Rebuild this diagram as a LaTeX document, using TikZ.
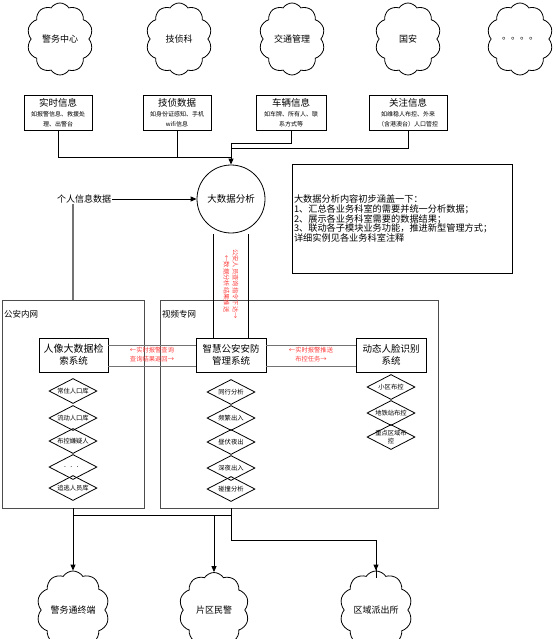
\documentclass[tikz,border=0pt]{standalone}
\usepackage{fontspec}
\setmainfont{Noto Sans CJK SC}
\usetikzlibrary{shapes.symbols,shapes.geometric,arrows.meta}
\tikzset{
  cloudn/.style={cloud, cloud puffs=10, cloud puff arc=115, aspect=0.9, draw, line width=0.8pt,
    minimum width=66pt, minimum height=72pt, inner sep=0pt, font=\fontsize{9}{10}\selectfont},
  infobox/.style={draw, line width=0.9pt, minimum height=35pt, align=center, inner sep=1pt,
    font=\fontsize{6}{10}\selectfont},
  sysbox/.style={draw, line width=0.9pt, minimum width=70pt, minimum height=34pt, align=center,
    inner sep=1pt, font=\fontsize{9.5}{12}\selectfont},
  dia/.style={diamond, draw, line width=0.8pt, minimum width=48pt, minimum height=25pt, inner sep=0pt,
    font=\fontsize{6.3}{7.5}\selectfont},
  netbox/.style={draw=black!70, line width=0.9pt},
  redtxt/.style={text=red!75, font=\fontsize{6.3}{9}\selectfont, align=center, inner sep=0pt},
  conn/.style={line width=0.9pt},
  arr/.style={line width=0.9pt, -{Triangle[length=6pt,width=5pt]}},
  grayln/.style={draw=black!55, line width=1.4pt}
}
\begin{document}
\begin{tikzpicture}[x=1pt,y=-1pt]
\useasboundingbox (0,0) rectangle (555,639);

% top clouds
\node[cloudn] (c1) at (60,39) {警务中心};
\node[cloudn] (c2) at (179,39) {技侦科};
\node[cloudn] (c3) at (292,39) {交通管理};
\node[cloudn] (c4) at (408,39) {国安};
\node[cloudn] (c5) at (520,39) {。。。。};

% info boxes
\node[infobox, minimum width=68pt] (sh) at (58,112.5) {{\fontsize{9.5}{10}\selectfont 实时信息}\\如报警信息、救援处\\理、出警台};
\node[infobox, minimum width=68pt] (jz) at (177,112.5) {{\fontsize{9.5}{10}\selectfont 技侦数据}\\如身份证感知、手机\\wifi信息};
\node[infobox, minimum width=70pt] (cl) at (291,112.5) {{\fontsize{9.5}{10}\selectfont 车辆信息}\\如车牌、所有人、联\\系方式等};
\node[infobox, minimum width=78pt] (gz) at (408,112.5) {{\fontsize{9.5}{10}\selectfont 关注信息}\\如维稳人布控、外来\\（含港澳台）人口管控};

% big data circle
\node[circle, draw, line width=0.8pt, minimum size=68pt, inner sep=0pt, font=\fontsize{9.5}{11}\selectfont] (bd) at (231,199) {大数据分析};

\coordinate (hubA) at (231,157);
\coordinate (hubB) at (231,148);
\coordinate (hubC) at (231,143);
\draw[conn] (sh.south) |- (hubA);
\draw[conn] (jz.south) -- (jz.south |- hubA);
\draw[conn] (cl.south) |- (hubC);
\draw[conn] (gz.south) |- (hubB);
\draw[arr] (hubC) -- (bd.north);

% personal info
\node[font=\fontsize{9}{10}\selectfont, inner sep=1pt] (pi) at (84,199) {个人信息数据};
\draw[arr] (pi.east) -- (bd.west);

% note box
\node[draw, line width=0.9pt, minimum width=220pt, minimum height=109pt, text width=216pt, align=left,
  inner sep=2pt, font=\fontsize{9.2}{9.8}\selectfont] (note) at (402,218.5)
  {大数据分析内容初步涵盖一下：\\1、汇总各业务科室的需要并统一分析数据；\\2、展示各业务科室需要的数据结果；\\3、联动各子模块业务功能，推进新型管理方式；\\详细实例见各业务科室注释};

% networks
\node[netbox, minimum width=142pt, minimum height=208pt, inner sep=0pt] (inner) at (73,404) {};
\node[netbox, minimum width=278pt, minimum height=208pt, inner sep=0pt] (video) at (299,404) {};
\node[anchor=west, font=\fontsize{8.5}{10}\selectfont, inner sep=0pt] (innerlbl) at (4,314) {公安内网};
\node[anchor=west, font=\fontsize{8.5}{10}\selectfont, inner sep=0pt] (videolbl) at (162,314) {视频专网};

\draw[grayln] (inner.north |- pi.south) -- (inner.north);

% systems
\node[sysbox, minimum width=69pt] (rx) at (73.5,355) {{\fontsize{10}{12}\selectfont 人像大数据检}\\索系统};
\node[sysbox] (zh) at (231,355) {智慧公安安防\\管理系统};
\node[sysbox] (dt) at (391,355) {动态人脸识别\\系统};

% circle to zh
\draw[conn] ([xshift=-18pt]bd.south |- 0,234) -- ([xshift=-18pt]zh.north);
\draw[conn] ([xshift=17pt]bd.south |- 0,234) -- ([xshift=17pt]zh.north);
\node[redtxt, rotate=-90] (vtxt) at (231,284) {公安人员查询指令下达→\\←数据分析结果推送};

% horizontal connectors
\draw[grayln, line width=1pt] ([yshift=10pt]rx.east) -- ([yshift=10pt]zh.west);
\draw[grayln, line width=1pt] ([yshift=-11pt]rx.east) -- ([yshift=-11pt]zh.west);
\node[redtxt] (t1) at (152,355) {←实时报警查询\\查询结果返回→};
\draw[grayln, line width=1pt] ([yshift=10pt]zh.east) -- ([yshift=10pt]dt.west);
\draw[grayln, line width=1pt] ([yshift=-11pt]zh.east) -- ([yshift=-11pt]dt.west);
\node[redtxt] (t2) at (311,355) {←实时报警推送\\布控任务→};

% diamonds left
\node[dia] (l1) at (73,391) {\makebox[0pt]{常住人口库}};
\node[dia] (l2) at (73,418) {\makebox[0pt]{流动人口库}};
\node[dia] (l3) at (73,441) {\makebox[0pt]{布控嫌疑人}};
\node[dia] (l4) at (73,467) {\makebox[0pt]{．．．}};
\node[dia] (l5) at (73,488) {\makebox[0pt]{追逃人员库}};
% diamonds middle
\node[dia] (m1) at (231,392) {\makebox[0pt]{同行分析}};
\node[dia] (m2) at (231,418) {\makebox[0pt]{频繁出入}};
\node[dia] (m3) at (231,442) {\makebox[0pt]{昼伏夜出}};
\node[dia] (m4) at (231,468) {\makebox[0pt]{深夜出入}};
\node[dia] (m5) at (231,489) {\makebox[0pt]{碰撞分析}};
% diamonds right
\node[dia] (r1) at (391,387) {\makebox[0pt]{小区布控}};
\node[dia] (r2) at (391,413) {\makebox[0pt]{地铁站布控}};
\node[dia] (r3) at (391,437) {\makebox[0pt]{\shortstack{重点区域布\\控}}};

% bottom clouds
\node[cloudn, minimum width=70pt, minimum height=75pt] (b1) at (73,610) {警务通终端};
\node[cloudn, minimum width=70pt, minimum height=75pt] (b2) at (214,610) {片区民警};
\node[cloudn, minimum width=70pt, minimum height=75pt] (b3) at (376,610) {区域派出所};

\coordinate (bj) at (231,515);
\coordinate (bk) at (231,540);
\draw[conn] (inner.south) -- (inner.south |- bj) -- (bj);
\draw[conn] (video.south -| bj) -- (bk) -| (b3.north |- 0,578);
\draw[arr] (inner.south |- bj) -- (b1.north);
\draw[arr] (b2.north |- bj) -- (b2.north);
\draw[arr] (b3.north |- bk) -- (b3.north);
\end{tikzpicture}
\end{document}
